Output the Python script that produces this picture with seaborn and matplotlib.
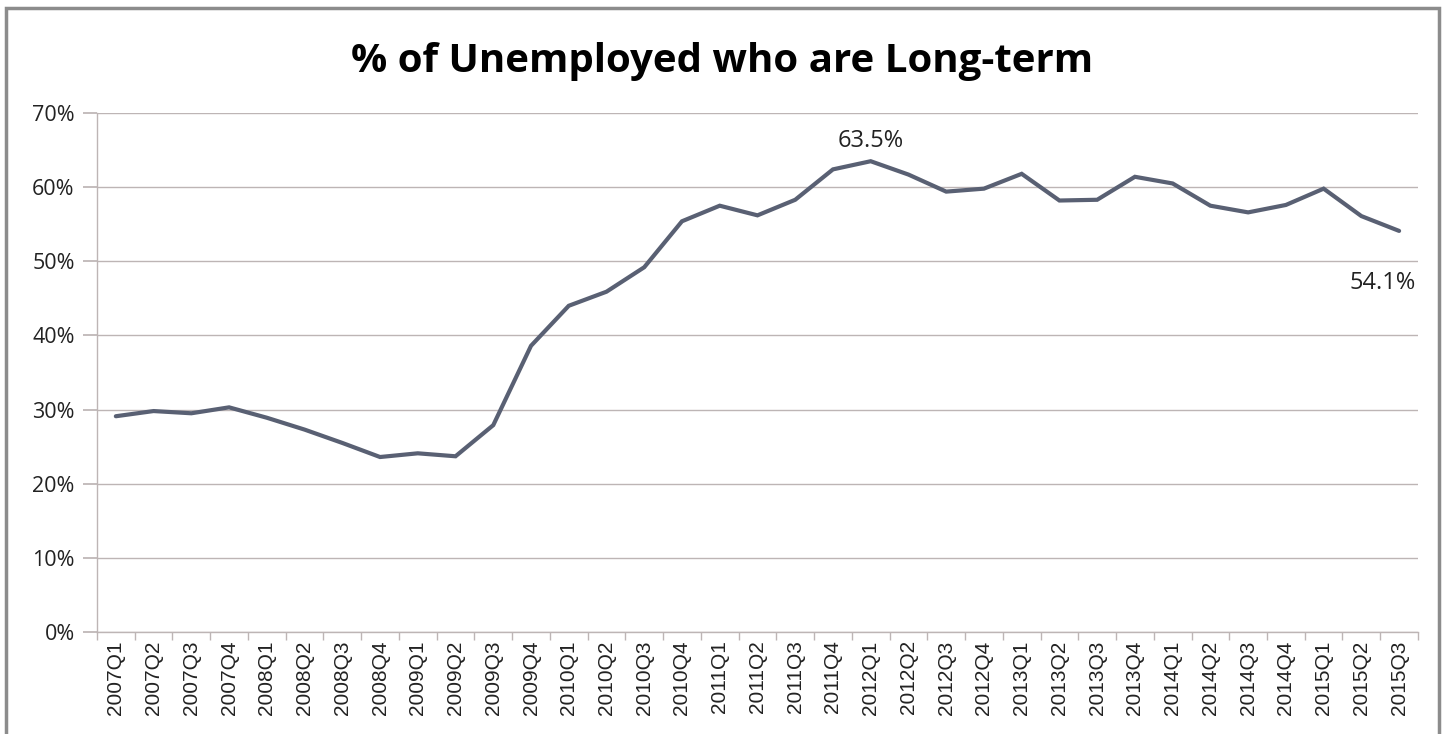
import numpy as np
import pandas as pd
import matplotlib
matplotlib.use("Agg")
import matplotlib.pyplot as plt
import seaborn as sns
from matplotlib.patches import Rectangle

quarters = [
    "2007Q1", "2007Q2", "2007Q3", "2007Q4",
    "2008Q1", "2008Q2", "2008Q3", "2008Q4",
    "2009Q1", "2009Q2", "2009Q3", "2009Q4",
    "2010Q1", "2010Q2", "2010Q3", "2010Q4",
    "2011Q1", "2011Q2", "2011Q3", "2011Q4",
    "2012Q1", "2012Q2", "2012Q3", "2012Q4",
    "2013Q1", "2013Q2", "2013Q3", "2013Q4",
    "2014Q1", "2014Q2", "2014Q3", "2014Q4",
    "2015Q1", "2015Q2", "2015Q3",
]
long_term_share = [
    29.1, 29.8, 29.5, 30.3,
    28.9, 27.3, 25.5, 23.6,
    24.1, 23.7, 27.9, 38.6,
    44.0, 45.9, 49.2, 55.4,
    57.5, 56.2, 58.3, 62.4,
    63.5, 61.7, 59.4, 59.8,
    61.8, 58.2, 58.3, 61.4,
    60.5, 57.5, 56.6, 57.6,
    59.8, 56.1, 54.1,
]
y_ticks = [0, 10, 20, 30, 40, 50, 60, 70]
title_text = "% of Unemployed who are Long-term"

df = pd.DataFrame({"pos": np.arange(len(quarters)), "share": long_term_share})

sns.set_theme(style="white")
plt.rcParams["font.family"] = ["Open Sans", "DejaVu Sans"]

fig = plt.figure(figsize=(14.45, 7.34), dpi=100)
fig.patch.set_facecolor("white")
ax = fig.add_axes([0.0671, 0.139, 0.9142, 0.707])

sns.lineplot(data=df, x="pos", y="share", ax=ax, color="#596073",
             linewidth=3.0, solid_joinstyle="miter")

ax.set_xlim(-0.5, len(quarters) - 0.5)
ax.set_ylim(0, 70)
ax.set_yticks(y_ticks)
ax.set_yticklabels([f"{v}%" for v in y_ticks], fontsize=15.5, color="#222222")
ax.yaxis.grid(True, color="#bdb5b5", linewidth=1.0)
ax.set_axisbelow(True)

ax.set_xticks(np.arange(len(quarters)))
ax.set_xticklabels(quarters, rotation=90, fontsize=15, color="#222222",
                   family=["Liberation Sans", "DejaVu Sans"])
ax.set_xticks(np.arange(len(quarters) + 1) - 0.5, minor=True)
ax.tick_params(axis="x", which="major", length=0, pad=6)
ax.tick_params(axis="x", which="minor", length=6, color="#bdb5b5", bottom=True)
ax.tick_params(axis="y", length=10, color="#bdb5b5", left=True, pad=6)
ax.set_xlabel("")
ax.set_ylabel("")

for side in ["top", "right"]:
    ax.spines[side].set_visible(False)
for side in ["left", "bottom"]:
    ax.spines[side].set_color("#bdb5b5")
    ax.spines[side].set_linewidth(1.0)

# Peak and latest value labels
peak_i = int(np.argmax(long_term_share))
ax.annotate(f"{long_term_share[peak_i]:.1f}%", (peak_i, long_term_share[peak_i]),
            xytext=(0, 6), textcoords="offset points", ha="center", va="bottom",
            fontsize=17, color="#222222")
last_i = len(quarters) - 1
ax.annotate(f"{long_term_share[last_i]:.1f}%", (last_i, long_term_share[last_i]),
            xytext=(-12, -29), textcoords="offset points", ha="center", va="top",
            fontsize=17, color="#222222")

fig.text(0.5, 0.916, title_text, ha="center", va="center",
         fontsize=29, fontweight="bold", color="black")

# Outer chart frame
fig.patches.append(Rectangle((0.004, -0.01), 0.992, 0.999, transform=fig.transFigure,
                             fill=False, edgecolor="#8c8c8c", linewidth=2.5))

fig.savefig("out.png", dpi=100, facecolor="white")
